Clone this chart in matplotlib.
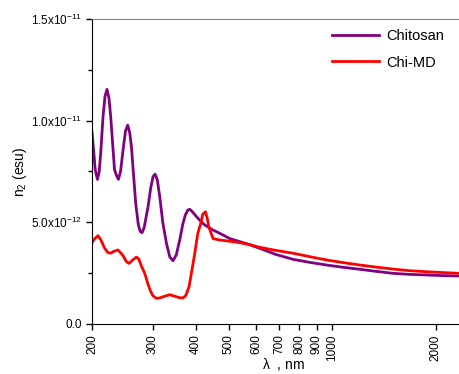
import matplotlib
matplotlib.use("Agg")
import matplotlib.pyplot as plt
from matplotlib.ticker import FixedLocator, NullLocator, NullFormatter

plt.rcParams['font.family'] = ['Liberation Sans', 'DejaVu Sans']
plt.rcParams['mathtext.fontset'] = 'custom'
plt.rcParams['mathtext.rm'] = 'Liberation Sans'
plt.rcParams['mathtext.default'] = 'regular'

# --- data (wavelength in nm, n2 in units of 1e-12 esu) ---
wl_chitosan = [200.0, 202.3, 204.3, 207.4, 209.9, 212.0, 215.3, 218.2, 221.1, 224.1,
               226.7, 229.8, 232.5, 235.7, 238.7, 242.1, 246.2, 250.3, 254.0, 257.5,
               260.4, 264.5, 268.0, 272.6, 276.2, 279.6, 283.7, 287.6, 291.1, 296.4,
               301.0, 305.0, 309.6, 314.8, 321.2, 329.2, 336.6, 344.1, 351.6, 359.9,
               367.2, 373.4, 379.7, 384.9, 392.7, 402.5, 414.3, 425.5, 449.9, 470.5,
               503.1, 538.0, 575.2, 615.1, 684.7, 768.9, 859.9, 961.7, 1072.7, 1202.0,
               1338.1, 1502.5, 1680.4, 1879.3, 2096.0, 2349.0]
n2_chitosan = [9.45, 8.5, 7.6, 7.11, 7.5, 8.4, 10.19, 11.2, 11.54, 11.1,
               10.19, 8.8, 7.6, 7.3, 7.11, 7.5, 8.55, 9.5, 9.78, 9.4,
               8.72, 7.2, 5.93, 4.9, 4.55, 4.49, 4.75, 5.3, 5.77, 6.7,
               7.25, 7.37, 7.1, 6.26, 5.0, 3.97, 3.3, 3.11, 3.4, 4.13,
               4.9, 5.35, 5.6, 5.64, 5.5, 5.28, 5.05, 4.87, 4.62, 4.46,
               4.2, 4.05, 3.9, 3.72, 3.42, 3.18, 3.03, 2.90, 2.79, 2.69,
               2.59, 2.49, 2.44, 2.41, 2.38, 2.36]

wl_chimd = [200.0, 203.7, 208.2, 212.0, 217.8, 222.2, 226.2, 232.1, 238.1, 242.4,
            246.2, 251.5, 256.3, 262.7, 269.3, 273.5, 278.5, 284.7, 291.1, 295.4,
            300.4, 307.9, 314.8, 321.8, 336.6, 352.0, 359.9, 368.0, 374.7, 383.0,
            390.0, 398.0, 406.0, 414.3, 419.9, 427.5, 432.7, 437.1, 449.9, 470.5,
            503.1, 538.0, 575.2, 615.1, 684.7, 768.9, 859.9, 961.7, 1072.7, 1202.0,
            1338.1, 1502.5, 1680.4, 1879.3, 2096.0, 2349.0]
n2_chimd = [4.0, 4.2, 4.34, 4.15, 3.72, 3.52, 3.48, 3.58, 3.64, 3.5,
            3.36, 3.08, 2.98, 3.15, 3.29, 3.2, 2.85, 2.49, 1.95, 1.65,
            1.4, 1.26, 1.28, 1.34, 1.44, 1.34, 1.29, 1.28, 1.4, 1.83,
            2.6, 3.48, 4.45, 4.95, 5.4, 5.52, 5.2, 4.78, 4.2, 4.13,
            4.07, 4.0, 3.9, 3.77, 3.62, 3.48, 3.31, 3.15, 3.02, 2.90,
            2.80, 2.70, 2.62, 2.57, 2.53, 2.49]

x_ticks = [200, 300, 400, 500, 600, 700, 800, 900, 1000, 2000]
y_ticks = [0.0, 5e-12, 1e-11, 1.5e-11]
y_tick_labels = ['0.0', r'5.0x10$^{-12}$', r'1.0x10$^{-11}$', r'1.5x10$^{-11}$']

fig = plt.figure(figsize=(4.6, 3.74), dpi=100)
ax = fig.add_axes([0.2, 0.1337, 0.8, 0.8155])

ax.plot(wl_chitosan, [v * 1e-12 for v in n2_chitosan], color='#800080', lw=2, label='Chitosan')
ax.plot(wl_chimd, [v * 1e-12 for v in n2_chimd], color='#ff0000', lw=2, label='Chi-MD')

ax.set_xscale('log')
ax.set_xlim(200, 2350)
ax.set_ylim(0, 1.5e-11)

ax.xaxis.set_major_locator(FixedLocator(x_ticks))
ax.xaxis.set_minor_locator(NullLocator())
ax.xaxis.set_minor_formatter(NullFormatter())
ax.set_xticklabels([str(t) for t in x_ticks], rotation=90, fontsize=8.5)

ax.set_yticks(y_ticks)
ax.set_yticklabels(y_tick_labels, fontsize=8.5)
ax.yaxis.set_minor_locator(FixedLocator([2.5e-12, 7.5e-12, 1.25e-11]))

ax.tick_params(which='both', direction='out', width=1)
ax.tick_params(which='major', length=4)
ax.tick_params(which='minor', length=3)

ax.spines['right'].set_visible(False)
ax.spines['top'].set_color('#808080')

ax.set_xlabel(r'$\lambda$  , nm', fontsize=10, va='center')
ax.xaxis.set_label_coords(0.52, -0.134)
ax.set_ylabel('n$_2$ (esu)', fontsize=10, va='center')
ax.yaxis.set_label_coords(-0.196, 0.5)

ax.legend(loc='upper right', frameon=False, fontsize=10.5, handlelength=3.2,
          handletextpad=0.5, labelspacing=0.85, borderaxespad=0.3,
          bbox_to_anchor=(0.985, 1.0))

fig.savefig('out.png', dpi=100)
